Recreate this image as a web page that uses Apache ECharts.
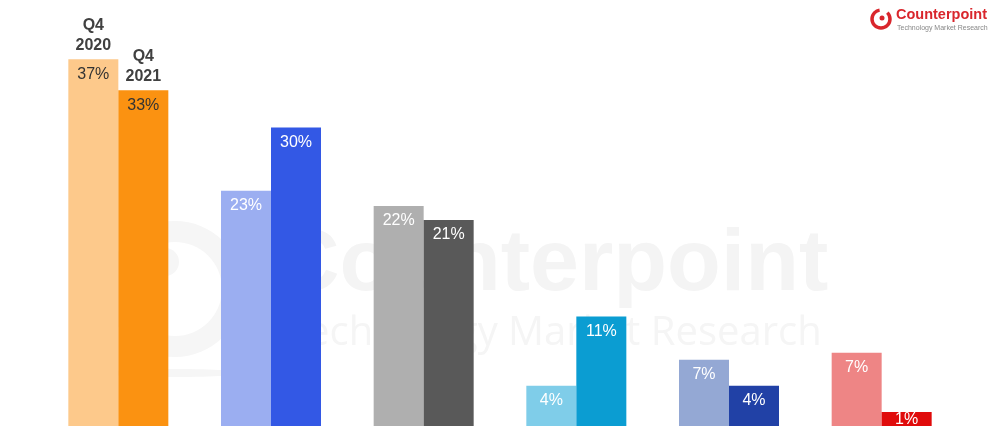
<!DOCTYPE html>
<html>
<head>
<meta charset="utf-8">
<script src="https://cdn.jsdelivr.net/npm/echarts@6/dist/echarts.min.js"></script>
<style>html,body{margin:0;padding:0;background:#fff}#c{width:1000px;height:429px}</style>
</head>
<body>
<div id="c"></div>
<script>
var categories = ['Brand 1', 'Brand 2', 'Brand 3', 'Brand 4', 'Brand 5', 'Brand 6'];
var periods = ['Q4\n2020', 'Q4\n2021'];
var values2020 = [36.5, 23.4, 21.9, 4.0, 6.6, 7.3];
var values2021 = [33.4, 29.7, 20.5, 10.9, 4.0, 1.4];
var colors2020 = ['#FDC98B', '#9BAEF1', '#AFAFAF', '#7FCDE9', '#94A8D4', '#EE8585'];
var colors2021 = ['#FB9211', '#3358E5', '#595959', '#0B9DD2', '#2141A6', '#E00B0B'];
var labelColors = ['#333333', '#ffffff', '#ffffff', '#ffffff', '#ffffff', '#ffffff'];

function itemsOf(vals, cols) {
  return vals.map(function (v, i) {
    return {
      value: v,
      itemStyle: { color: cols[i] },
      label: { color: labelColors[i], distance: v < 2 ? 0 : 7 }
    };
  });
}
function headerData() {
  return categories.map(function (c, i) { return i === 0 ? 0 : null; });
}

var valueLabel = {
  show: true,
  position: 'insideTop',
  distance: 7,
  fontFamily: 'Liberation Sans, Arial, sans-serif',
  fontSize: 16,
  formatter: function (p) { return Math.round(p.value) + '%'; }
};
function headerLabel(txt) {
  return {
    show: true,
    position: 'top',
    distance: 4,
    fontFamily: 'Liberation Sans, Arial, sans-serif',
    fontSize: 16,
    fontWeight: 'bold',
    lineHeight: 20,
    color: '#404040',
    formatter: function () { return txt; }
  };
}

var chart = echarts.init(document.getElementById('c'));
chart.setOption({
  animation: false,
  backgroundColor: '#ffffff',
  grid: { left: 42, right: 42, top: 24, bottom: 3 },
  xAxis: {
    type: 'category',
    data: categories,
    show: false
  },
  yAxis: { type: 'value', min: 0, max: 40, show: false },
  graphic: [
    { type: 'ring', z: 0, shape: { cx: 175, cy: 289, r: 68, r0: 47 }, style: { fill: '#f6f6f6' } },
    { type: 'circle', z: 0, shape: { cx: 165, cy: 262, r: 14 }, style: { fill: '#f6f6f6' } },
    { type: 'ellipse', z: 0, shape: { cx: 175, cy: 373, rx: 70, ry: 4 }, style: { fill: '#f6f6f6' } },
    { type: 'text', z: 0, left: 276, top: 222, style: { text: 'Counterpoint', font: 'bold 88px "Liberation Sans", Arial, sans-serif', fill: '#f4f4f4' } },
    { type: 'text', z: 0, left: 285, top: 314, style: { text: 'Technology Market Research', font: '40px "Open Sans", "Liberation Sans", sans-serif', fill: '#f5f5f5' } },
    { type: 'arc', z: 10, shape: { cx: 881, cy: 19, r: 9, startAngle: -Math.PI / 4, endAngle: Math.PI * 1.45 }, style: { stroke: '#D9262C', lineWidth: 3.5, fill: null } },
    { type: 'circle', z: 10, shape: { cx: 882, cy: 18, r: 2.5 }, style: { fill: '#D9262C' } },
    { type: 'text', z: 10, left: 896, top: 7, style: { text: 'Counterpoint', font: 'bold 14.5px "Liberation Sans", Arial, sans-serif', fill: '#D9262C' } },
    { type: 'text', z: 10, left: 897, top: 25, style: { text: 'Technology Market Research', font: '7px "Liberation Sans", Arial, sans-serif', fill: '#888888' } }
  ],
  series: [
    { name: '2020', type: 'bar', stack: 'a', barWidth: 50, barGap: '0%', data: itemsOf(values2020, colors2020), label: valueLabel },
    { name: '2020h', type: 'bar', stack: 'a', barWidth: 50, barGap: '0%', data: headerData(), label: headerLabel(periods[0]), itemStyle: { color: 'transparent' } },
    { name: '2021', type: 'bar', stack: 'b', barWidth: 50, barGap: '0%', data: itemsOf(values2021, colors2021), label: valueLabel },
    { name: '2021h', type: 'bar', stack: 'b', barWidth: 50, barGap: '0%', data: headerData(), label: headerLabel(periods[1]), itemStyle: { color: 'transparent' } }
  ]
});
</script>
</body>
</html>
